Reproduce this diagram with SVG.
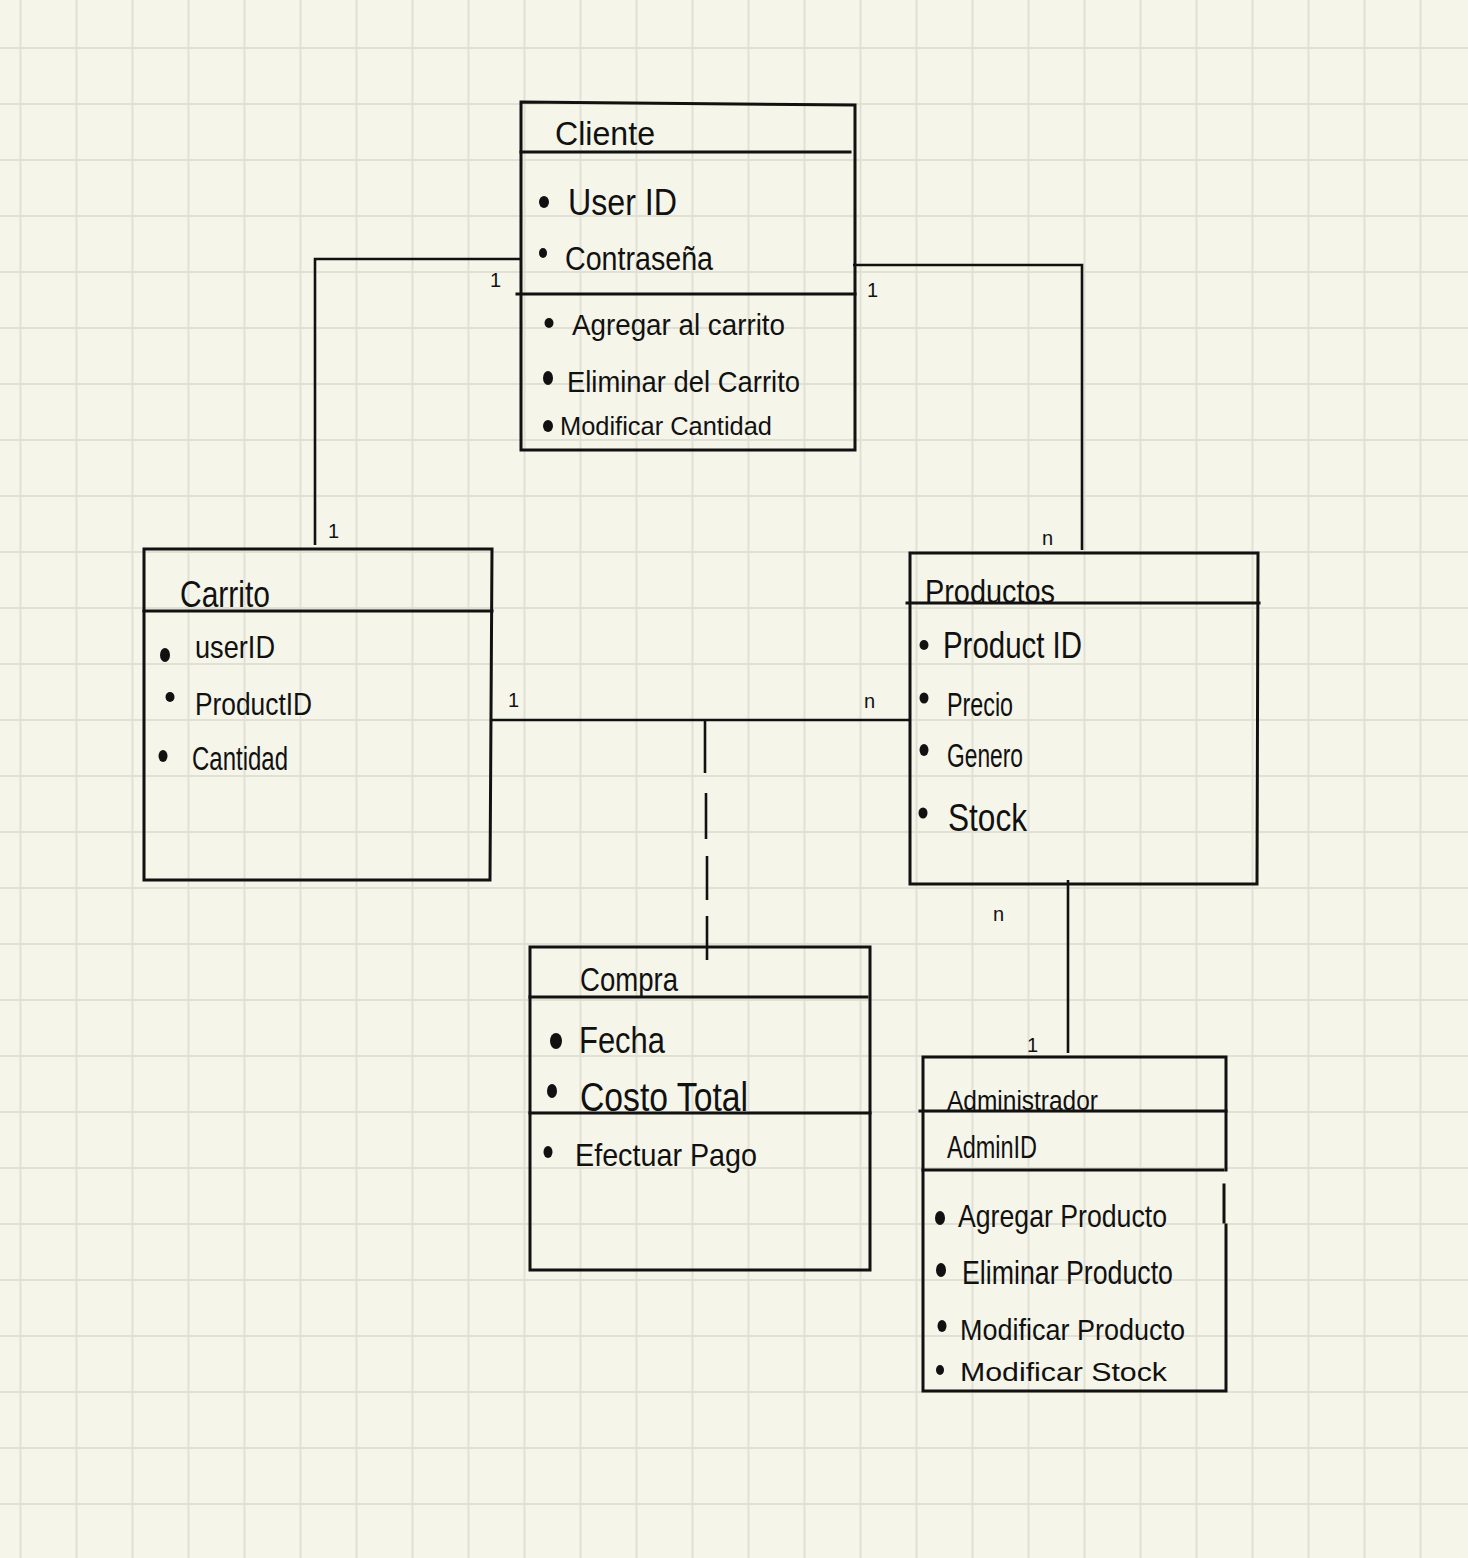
<svg xmlns="http://www.w3.org/2000/svg" width="1468" height="1558" viewBox="0 0 1468 1558">
<style>
.box{fill:none;stroke:#111;stroke-width:3;stroke-linecap:square}
.ln{fill:none;stroke:#111;stroke-width:2.6}
.t{font-family:'Liberation Sans',Arial,sans-serif;fill:#111}
.lb{font-family:'Liberation Sans',Arial,sans-serif;fill:#111;font-size:20px}
.b{fill:#111}
</style>
<defs>
<pattern id="grid" x="-7.5" y="20" width="56" height="56" patternUnits="userSpaceOnUse">
<rect width="56" height="56" fill="#f5f5ea"/>
<path d="M28 0V56M0 28H56" stroke="#e0e0d5" stroke-width="2"/>
</pattern>
</defs>
<rect width="1468" height="1558" fill="url(#grid)"/>

<g id="connectors">
<polyline class="ln" points="521,259 315,259 315,545"/>
<polyline class="ln" points="853,265 1082,265 1082,550"/>
<line class="ln" x1="491" y1="720" x2="909" y2="720"/>
<path class="ln" d="M705 720V773M706 793V839M707 856V900M707 916V960"/>
<line class="ln" x1="1068" y1="880" x2="1068" y2="1053"/>
<text class="lb" x="490" y="287">1</text>
<text class="lb" x="328" y="538">1</text>
<text class="lb" x="867" y="297">1</text>
<text class="lb" x="1042" y="545">n</text>
<text class="lb" x="508" y="707">1</text>
<text class="lb" x="864" y="708">n</text>
<text class="lb" x="993" y="921">n</text>
<text class="lb" x="1027" y="1052">1</text>
</g>

<g id="cliente">
<path class="box" d="M521 102L855 105V450H521Z"/>
<line class="box" x1="521" y1="152" x2="850" y2="152"/>
<line class="box" x1="517" y1="294" x2="855" y2="294"/>
<text class="t" x="555" y="145" font-size="34" textLength="100" lengthAdjust="spacingAndGlyphs">Cliente</text>
<ellipse class="b" cx="544" cy="202" rx="5" ry="6"/>
<text class="t" x="568" y="215" font-size="36" textLength="109" lengthAdjust="spacingAndGlyphs">User ID</text>
<ellipse class="b" cx="543" cy="253" rx="4" ry="5"/>
<text class="t" x="565" y="270" font-size="34" textLength="148" lengthAdjust="spacingAndGlyphs">Contraseña</text>
<ellipse class="b" cx="549" cy="323" rx="4.5" ry="5"/>
<text class="t" x="572" y="335" font-size="30" textLength="213" lengthAdjust="spacingAndGlyphs">Agregar al carrito</text>
<ellipse class="b" cx="548" cy="378" rx="5" ry="7"/>
<text class="t" x="567" y="392" font-size="30" textLength="233" lengthAdjust="spacingAndGlyphs">Eliminar del Carrito</text>
<ellipse class="b" cx="548" cy="426" rx="5" ry="6"/>
<text class="t" x="560" y="435" font-size="26" textLength="212" lengthAdjust="spacingAndGlyphs">Modificar Cantidad</text>
</g>

<g id="carrito">
<path class="box" d="M144 549H492L490 880H144Z"/>
<line class="box" x1="144" y1="611" x2="492" y2="611"/>
<text class="t" x="180" y="607" font-size="36" textLength="90" lengthAdjust="spacingAndGlyphs">Carrito</text>
<ellipse class="b" cx="165" cy="655" rx="5" ry="7"/>
<text class="t" x="195" y="658" font-size="32" textLength="80" lengthAdjust="spacingAndGlyphs">userID</text>
<ellipse class="b" cx="170" cy="697" rx="4.5" ry="5"/>
<text class="t" x="195" y="715" font-size="32" textLength="117" lengthAdjust="spacingAndGlyphs">ProductID</text>
<ellipse class="b" cx="163" cy="756" rx="4.5" ry="6"/>
<text class="t" x="192" y="770" font-size="34" textLength="96" lengthAdjust="spacingAndGlyphs">Cantidad</text>
</g>

<g id="productos">
<path class="box" d="M910 553H1258L1257 884H910Z"/>
<line class="box" x1="907" y1="603" x2="1259" y2="603"/>
<text class="t" x="925" y="603" font-size="34" textLength="130" lengthAdjust="spacingAndGlyphs">Productos</text>
<ellipse class="b" cx="924" cy="645" rx="4.5" ry="5"/>
<text class="t" x="943" y="658" font-size="36" textLength="139" lengthAdjust="spacingAndGlyphs">Product ID</text>
<ellipse class="b" cx="924" cy="698" rx="4.5" ry="5.5"/>
<text class="t" x="947" y="716" font-size="34" textLength="66" lengthAdjust="spacingAndGlyphs">Precio</text>
<ellipse class="b" cx="924" cy="750" rx="4.5" ry="6"/>
<text class="t" x="947" y="767" font-size="34" textLength="76" lengthAdjust="spacingAndGlyphs">Genero</text>
<ellipse class="b" cx="923" cy="813" rx="4.5" ry="5.5"/>
<text class="t" x="948" y="831" font-size="38" textLength="79" lengthAdjust="spacingAndGlyphs">Stock</text>
</g>

<g id="compra">
<path class="box" d="M530 947H870V1270H530Z"/>
<line class="box" x1="530" y1="997" x2="867" y2="997"/>
<line class="box" x1="530" y1="1113" x2="870" y2="1113"/>
<text class="t" x="580" y="991" font-size="34" textLength="98" lengthAdjust="spacingAndGlyphs">Compra</text>
<ellipse class="b" cx="556" cy="1041" rx="6" ry="8"/>
<text class="t" x="579" y="1053" font-size="36" textLength="86" lengthAdjust="spacingAndGlyphs">Fecha</text>
<ellipse class="b" cx="552" cy="1091" rx="5" ry="7"/>
<text class="t" x="580" y="1111" font-size="40" textLength="168" lengthAdjust="spacingAndGlyphs">Costo Total</text>
<ellipse class="b" cx="548" cy="1152" rx="4.5" ry="6"/>
<text class="t" x="575" y="1166" font-size="32" textLength="182" lengthAdjust="spacingAndGlyphs">Efectuar Pago</text>
</g>

<g id="administrador">
<path class="box" d="M1226 1170V1057H923V1391H1226V1225"/>
<line class="box" x1="1224" y1="1185" x2="1224" y2="1222"/>
<line class="box" x1="920" y1="1111" x2="1226" y2="1111"/>
<line class="box" x1="923" y1="1170" x2="1223" y2="1170"/>
<text class="t" x="947" y="1110" font-size="27" textLength="151" lengthAdjust="spacingAndGlyphs">Administrador</text>
<text class="t" x="947" y="1158" font-size="31" textLength="90" lengthAdjust="spacingAndGlyphs">AdminID</text>
<ellipse class="b" cx="940" cy="1218" rx="5" ry="7"/>
<text class="t" x="958" y="1227" font-size="32" textLength="209" lengthAdjust="spacingAndGlyphs">Agregar Producto</text>
<ellipse class="b" cx="941" cy="1270" rx="5" ry="7"/>
<text class="t" x="962" y="1284" font-size="34" textLength="211" lengthAdjust="spacingAndGlyphs">Eliminar Producto</text>
<ellipse class="b" cx="942" cy="1326" rx="4.5" ry="6"/>
<text class="t" x="960" y="1340" font-size="30" textLength="225" lengthAdjust="spacingAndGlyphs">Modificar Producto</text>
<ellipse class="b" cx="940" cy="1370" rx="4" ry="5"/>
<text class="t" x="960" y="1381" font-size="26" textLength="207" lengthAdjust="spacingAndGlyphs">Modificar Stock</text>
</g>
</svg>
